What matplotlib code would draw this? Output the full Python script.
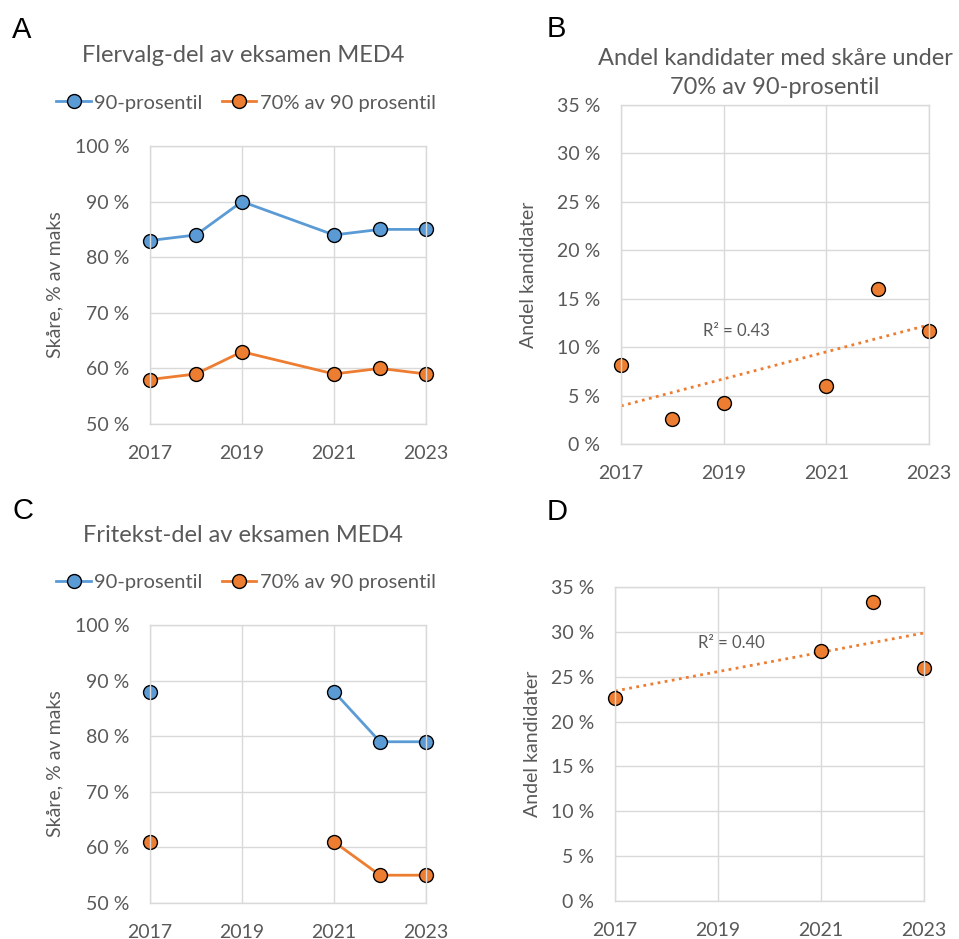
import numpy as np
import matplotlib
matplotlib.use("Agg")
import matplotlib.pyplot as plt
from matplotlib.ticker import FuncFormatter
from matplotlib.lines import Line2D

plt.rcParams['font.family'] = ['Lato', 'DejaVu Sans']

# ==== Data ====
# A: multiple choice part (no exam 2020)
years_a = [2017, 2018, 2019, 2021, 2022, 2023]
p90_a = [83, 84, 90, 84, 85, 85]
p70_a = [58, 59, 63, 59, 60, 59]

# C: free text part (missing 2018-2020)
years_c = [2017, 2018, 2019, 2020, 2021, 2022, 2023]
p90_c = [88, np.nan, np.nan, np.nan, 88, 79, 79]
p70_c = [61, np.nan, np.nan, np.nan, 61, 55, 55]

# B / D: share of candidates below 70% of the 90th percentile
years_b = [2017, 2018, 2019, 2021, 2022, 2023]
share_b = [8.2, 2.6, 4.2, 6.0, 16.0, 11.7]
years_d = [2017, 2021, 2022, 2023]
share_d = [22.6, 27.9, 33.3, 26.0]

r2_b = "R² = 0.43"
r2_d = "R² = 0.40"

BLUE = "#5B9BD5"
ORANGE = "#ED7D31"
GRID = "#D9D9D9"
TXT = "#595959"
W, H = 959, 939
MS = 10

fig = plt.figure(figsize=(W / 100, H / 100), dpi=100)


def px_axes(left, right, top, bottom):
    return fig.add_axes([left / W, 1 - bottom / H, (right - left) / W, (bottom - top) / H])


def style(ax, ylim, yticks):
    ax.set_xlim(2017, 2023)
    ax.set_xticks([2017, 2019, 2021, 2023])
    ax.set_ylim(*ylim)
    ax.set_yticks(yticks)
    ax.yaxis.set_major_formatter(FuncFormatter(lambda v, p: f"{v:.0f} %"))
    ax.grid(True, color=GRID, linewidth=1)
    ax.set_axisbelow(True)
    for s in ax.spines.values():
        s.set_color(GRID)
        s.set_linewidth(1)
    ax.tick_params(length=0, labelsize=14, colors=TXT)
    ax.tick_params(axis="y", pad=15)
    ax.tick_params(axis="x", pad=15)


def line_panel(ax, x, a, b):
    ax.plot(x, a, color=BLUE, lw=2, marker="o", ms=MS, mfc=BLUE, mec="black", mew=1, clip_on=False)
    ax.plot(x, b, color=ORANGE, lw=2, marker="o", ms=MS, mfc=ORANGE, mec="black", mew=1, clip_on=False)
    style(ax, (50, 100), range(50, 101, 10))
    ax.set_ylabel("Skåre, % av maks", fontsize=14, color=TXT)
    ax.yaxis.set_label_coords(-0.315, 0.5)


def scatter_panel(ax, x, y, r2, r2_pos, lab_x):
    # linear trend line over the data range
    k, m = np.polyfit(x, y, 1)
    xs = np.array([min(x), max(x)])
    ax.plot(xs, k * xs + m, color=ORANGE, lw=2, linestyle=(0, (1, 1.6)))
    ax.plot(x, y, linestyle="none", marker="o", ms=MS, mfc=ORANGE, mec="black", mew=1, clip_on=False)
    style(ax, (0, 35), range(0, 36, 5))
    ax.set_ylabel("Andel kandidater", fontsize=14, color=TXT)
    ax.yaxis.set_label_coords(lab_x, 0.5)
    ax.text(r2_pos[0], r2_pos[1], r2, fontsize=12, color=TXT, ha="center", va="center")


def legend(y_px):
    handles = [Line2D([], [], color=BLUE, lw=2, marker="o", ms=MS, mfc=BLUE, mec="black"),
               Line2D([], [], color=ORANGE, lw=2, marker="o", ms=MS, mfc=ORANGE, mec="black")]
    leg = fig.legend(handles, ["90-prosentil", "70% av 90 prosentil"], loc="center",
                     bbox_to_anchor=(246 / W, 1 - y_px / H), ncol=2, frameon=False,
                     fontsize=14.5, handlelength=1.7, handletextpad=0.15, columnspacing=1.0)
    for t in leg.get_texts():
        t.set_color(TXT)


# ==== Panel A ====
ax_a = px_axes(150, 426, 146, 424)
line_panel(ax_a, years_a, p90_a, p70_a)
fig.text(243 / W, 1 - 56 / H, "Flervalg-del av eksamen MED4", fontsize=17, color=TXT, ha="center", va="center")
legend(103)

# ==== Panel B ====
ax_b = px_axes(621, 929, 105, 444)
scatter_panel(ax_b, years_b, share_b, r2_b, (2019.25, 11.7), -0.273)
fig.text(775 / W, 1 - 73 / H, "Andel kandidater med skåre under\n70% av 90-prosentil", fontsize=17,
         color=TXT, ha="center", va="center", linespacing=1.5)

# ==== Panel C ====
ax_c = px_axes(150, 426, 625, 903)
line_panel(ax_c, years_c, p90_c, p70_c)
fig.text(243 / W, 1 - 535 / H, "Fritekst-del av eksamen MED4", fontsize=17, color=TXT, ha="center", va="center")
legend(582)

# ==== Panel D ====
ax_d = px_axes(615, 924, 587, 901)
scatter_panel(ax_d, years_d, share_d, r2_d, (2019.25, 28.8), -0.239)

# panel letters
for lx, ly, s in [(12, 38, "A"), (547, 37, "B"), (12, 519, "C"), (547, 520, "D")]:
    fig.text(lx / W, 1 - ly / H, s, fontsize=21, color="black", ha="left", va="baseline",
             family=["Liberation Sans", "DejaVu Sans"])

fig.savefig("out.png", dpi=100, facecolor="white")
